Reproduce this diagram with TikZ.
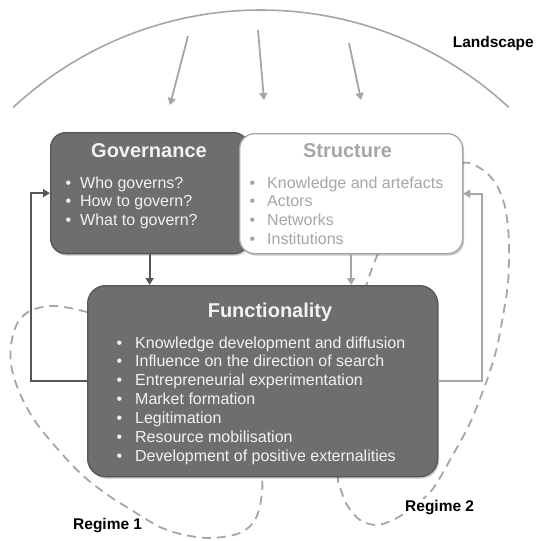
\documentclass[tikz,border=0pt]{standalone}
\usepackage{fontspec}
\setmainfont{Liberation Sans}
\usetikzlibrary{arrows.meta,shadows}
\definecolor{boxfill}{HTML}{6E6E6E}
\definecolor{boxline}{HTML}{565656}
\definecolor{lightg}{HTML}{A6A6A6}
\definecolor{txtw}{HTML}{F2F2F2}
\newcommand{\mybul}[1]{\llap{\textbullet\hspace{#1}}}
\begin{document}
\begin{tikzpicture}[x=1pt,y=-1pt,
  box/.style={rounded corners=15pt, anchor=north west, inner sep=0pt, line width=1.3pt,
    drop shadow={shadow xshift=1.5pt, shadow yshift=-2pt, fill=black, opacity=0.22}},
  ttl/.style={font=\fontsize{20}{24}\selectfont\bfseries, anchor=base, inner sep=0pt},
  itm/.style={font=\fontsize{16}{19}\selectfont, anchor=base west, inner sep=0pt},
  lbl/.style={font=\fontsize{15.5}{19}\selectfont\bfseries, inner sep=1pt},
  dk/.style={draw=boxline, line width=1.8pt, -{Triangle[length=7pt,width=8pt]}},
  lt/.style={draw=lightg, line width=1.8pt, -{Triangle[length=7pt,width=8pt]}},
  dsh/.style={draw=lightg, line width=1.8pt, dash pattern=on 9pt off 6pt}
]
\useasboundingbox (0,0) rectangle (541,541);
\fill[white] (0,0) rectangle (541,541);

% landscape arc
\draw[lightg, line width=1.6pt] plot[domain=132.9:47.1, samples=80] ({261+364*cos(\x)}, {374-364*sin(\x)});
\coordinate (a1s) at (188,36);  \coordinate (a1e) at (170,105);
\coordinate (a2s) at (258,30);  \coordinate (a2e) at (264,100);
\coordinate (a3s) at (349,43);  \coordinate (a3e) at (361,100);
\draw[lt] (a1s) -- (a1e);
\draw[lt] (a2s) -- (a2e);
\draw[lt] (a3s) -- (a3e);

% regime loops
\draw[dsh] plot[smooth cycle, tension=0.55] coordinates {
  (200,400) (130,325) (87,312) (55,306) (32,310) (18,322) (11,345) (12,370)
  (22,398) (40,428) (77,470) (105,493) (133,511) (160,527) (185,535) (212,538)
  (240,533) (255,520) (261,500) (262,478) (255,440)};
\draw[dsh] plot[smooth cycle, tension=0.55] coordinates {
  (366,286) (380,250) (405,215) (435,182) (463,163) (483,170) (496,184) (504,203)
  (508,227) (509,253) (508,283) (504,310) (497,347) (487,380) (470,423) (450,460)
  (432,490) (413,507) (395,519) (377,525) (360,520) (347,505) (341,490) (338,478)
  (340,420) (352,330)};

% boxes
\node[box, fill=boxfill, draw=boxline, minimum width=198pt, minimum height=121pt] (gov) at (50,132) {};
\node[box, fill=white, draw=lightg, minimum width=223pt, minimum height=120pt] (str) at (239,133) {};
\node[box, rounded corners=18pt, fill=boxfill, draw=boxline, minimum width=350pt, minimum height=191pt] (fun) at (87,285) {};

% titles
\node[ttl, text=txtw] (govt) at (149,157) {Governance};
\node[ttl, text=lightg] (strt) at (347.5,157) {Structure};
\node[ttl, text=txtw] (funt) at (270,317) {Functionality};

% items
\begin{scope}[text=txtw]
\node[itm] (g1) at (80,188) {\mybul{9pt}Who governs?};
\node[itm] (g2) at (80,206.5) {\mybul{9pt}How to govern?};
\node[itm] (g3) at (80,225) {\mybul{9pt}What to govern?};
\end{scope}
\begin{scope}[text=lightg]
\node[itm] (s1) at (267,188) {\mybul{12pt}Knowledge and artefacts};
\node[itm] (s2) at (267,206.7) {\mybul{12pt}Actors};
\node[itm] (s3) at (267,225.4) {\mybul{12pt}Networks};
\node[itm] (s4) at (267,244) {\mybul{12pt}Institutions};
\end{scope}
\begin{scope}[text=txtw]
\node[itm] (f1) at (135,348) {\mybul{13pt}Knowledge development and diffusion};
\node[itm] (f2) at (135,366.85) {\mybul{13pt}Influence on the direction of search};
\node[itm] (f3) at (135,385.7) {\mybul{13pt}Entrepreneurial experimentation};
\node[itm] (f4) at (135,404.55) {\mybul{13pt}Market formation};
\node[itm] (f5) at (135,423.4) {\mybul{13pt}Legitimation};
\node[itm] (f6) at (135,442.25) {\mybul{13pt}Resource mobilisation};
\node[itm] (f7) at (135,461.1) {\mybul{13pt}Development of positive externalities};
\end{scope}

% connectors
\draw[dk] (gov.south) -- (gov.south |- fun.north);
\draw[lt] (str.south) -- (str.south |- fun.north);
\draw[dk] (fun.west) -- ++(-56,0) |- (gov.west);
\draw[lt] (fun.east) -- ++(44,0) |- (str.east);

% labels
\node[lbl, anchor=base east] (land) at (535,47) {Landscape};
\node[lbl, anchor=base west, fill=white] (reg1) at (72,529) {Regime 1};
\node[lbl, anchor=base west, fill=white] (reg2) at (404,511) {Regime 2};
\end{tikzpicture}
\end{document}
